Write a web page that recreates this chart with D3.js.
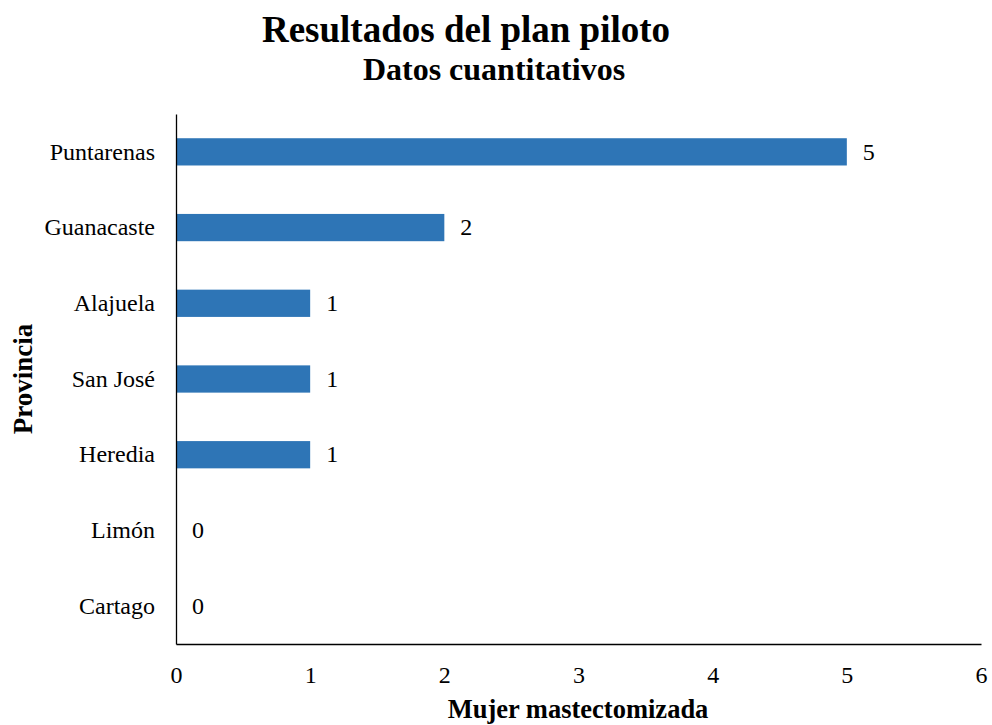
<!DOCTYPE html>
<html>
<head>
<meta charset="utf-8">
<script src="https://cdn.jsdelivr.net/npm/d3@7"></script>
<style>
  body { margin: 0; background: #fff; }
  svg { display: block; font-family: "Liberation Serif", "Times New Roman", serif; }
</style>
</head>
<body>
<svg id="chart" width="992" height="725"></svg>
<script>
// Provinces, top to bottom, and the count of women per province
const provinces = ["Puntarenas", "Guanacaste", "Alajuela", "San José", "Heredia", "Limón", "Cartago"];
const counts = [5, 2, 1, 1, 1, 0, 0];
const xTicks = [0, 1, 2, 3, 4, 5, 6];

const title = "Resultados del plan piloto";
const subtitle = "Datos cuantitativos";
const xTitle = "Mujer mastectomizada";
const yTitle = "Provincia";

const svg = d3.select("#chart");
const plot = { left: 176, right: 981, top: 114, bottom: 644 };
const labelSize = 24;

const x = d3.scaleLinear().domain([0, 6]).range([plot.left, plot.right]);
const y = d3.scaleBand().domain(provinces).range([plot.top, plot.bottom])
  .paddingInner(0.64).paddingOuter(0.32);

// Bars
svg.append("g").selectAll("rect")
  .data(provinces)
  .join("rect")
  .attr("x", x(0))
  .attr("y", d => y(d))
  .attr("width", (d, i) => x(counts[i]) - x(0))
  .attr("height", y.bandwidth())
  .attr("fill", "#2e75b6");

// Value labels
svg.append("g").selectAll("text")
  .data(provinces)
  .join("text")
  .attr("x", (d, i) => x(counts[i]) + 16)
  .attr("y", d => y(d) + y.bandwidth() / 2)
  .attr("dy", "0.32em")
  .attr("font-size", labelSize)
  .attr("fill", "#000")
  .text((d, i) => counts[i]);

// X axis (labels only, no tick marks)
const xAxis = svg.append("g")
  .attr("transform", `translate(0,${plot.bottom})`)
  .call(d3.axisBottom(x).tickValues(xTicks).tickFormat(d3.format("d")).tickSize(0).tickPadding(22));
xAxis.select(".domain").attr("stroke", "#000").attr("stroke-width", 1.3);
xAxis.selectAll("text").attr("font-size", labelSize).attr("font-family", "Liberation Serif, serif").attr("fill", "#000");

// Y axis
const yAxis = svg.append("g")
  .attr("transform", `translate(${plot.left},0)`)
  .call(d3.axisLeft(y).tickSize(0).tickPadding(21));
yAxis.select(".domain").attr("stroke", "#000").attr("stroke-width", 1.3);
yAxis.selectAll("text").attr("font-size", labelSize).attr("font-family", "Liberation Serif, serif").attr("fill", "#000");

// Titles
svg.append("text")
  .attr("x", 466).attr("y", 42)
  .attr("text-anchor", "middle")
  .attr("font-size", 37).attr("font-weight", "bold")
  .text(title);

svg.append("text")
  .attr("x", 494).attr("y", 80)
  .attr("text-anchor", "middle")
  .attr("font-size", 32).attr("font-weight", "bold")
  .text(subtitle);

svg.append("text")
  .attr("x", 578).attr("y", 718)
  .attr("text-anchor", "middle")
  .attr("font-size", 26.5).attr("font-weight", "bold")
  .text(xTitle);

svg.append("text")
  .attr("transform", "translate(32,379) rotate(-90)")
  .attr("text-anchor", "middle")
  .attr("font-size", 27).attr("font-weight", "bold")
  .text(yTitle);
</script>
</body>
</html>
